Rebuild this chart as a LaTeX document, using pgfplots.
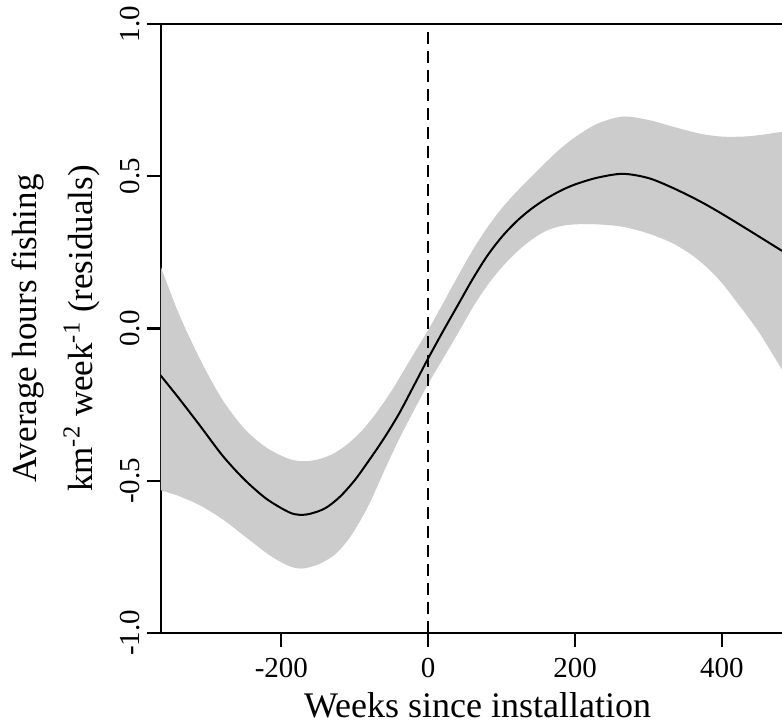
\documentclass[border=0pt]{standalone}
\usepackage{fontspec}
\setmainfont{Liberation Serif}
\usepackage{pgfplots}
\pgfplotsset{compat=1.18}
\usepgfplotslibrary{fillbetween}
\usetikzlibrary{calc}
\definecolor{band}{RGB}{204,204,204}

\pgfplotstableread{
x y
-366 -0.150
-340 -0.228
-310 -0.322
-280 -0.418
-250 -0.497
-220 -0.560
-190 -0.603
-175 -0.612
-160 -0.608
-140 -0.590
-120 -0.552
-100 -0.498
-80 -0.431
-60 -0.360
-40 -0.281
-20 -0.190
0 -0.098
20 -0.010
40 0.075
60 0.160
80 0.237
100 0.300
120 0.351
140 0.392
160 0.425
180 0.452
200 0.473
230 0.495
265 0.508
300 0.494
333 0.462
370 0.418
402 0.374
440 0.318
482 0.255
}\meantab

\pgfplotstableread{
x y
-366 0.214
-340 0.050
-310 -0.105
-280 -0.235
-250 -0.330
-220 -0.392
-190 -0.428
-170 -0.436
-150 -0.430
-130 -0.412
-110 -0.380
-90 -0.335
-70 -0.275
-50 -0.205
-30 -0.125
-15 -0.065
0 -0.005
20 0.082
40 0.170
60 0.255
80 0.330
100 0.394
120 0.448
140 0.497
160 0.545
180 0.590
200 0.628
230 0.672
265 0.696
300 0.685
333 0.663
370 0.640
402 0.630
440 0.632
482 0.646
}\uptab

\pgfplotstableread{
x y
-366 -0.530
-340 -0.550
-310 -0.582
-280 -0.627
-250 -0.682
-220 -0.738
-200 -0.768
-185 -0.784
-170 -0.788
-150 -0.775
-130 -0.748
-115 -0.712
-100 -0.662
-80 -0.575
-60 -0.468
-40 -0.365
-20 -0.272
0 -0.182
20 -0.100
40 -0.018
60 0.066
80 0.140
100 0.200
120 0.250
140 0.290
160 0.320
180 0.336
200 0.342
230 0.342
265 0.334
300 0.312
333 0.280
360 0.240
380 0.200
400 0.150
424 0.075
450 -0.010
482 -0.135
}\lotab

\begin{document}
\begin{tikzpicture}
\begin{axis}[
  scale only axis,
  width=310.5pt, height=304.5pt,
  xmin=-364, xmax=482,
  ymin=-1, ymax=1,
  axis x line*=bottom,
  axis y line*=left,
  axis line style={-, line width=1.2pt},
  tick style={line width=1.1pt, black},
  tick align=outside,
  major tick length=7pt,
  xtick={-200,0,200,400},
  xticklabels={-200,0,200,400},
  ytick={-1,-0.5,0,0.5,1},
  yticklabels={-1.0,-0.5,0.0,0.5,1.0},
  minor tick num=0,
  /pgf/number format/assume math mode=true,
  tick label style={font=\fontsize{14.5}{17}\selectfont},
  xticklabel style={yshift=-2pt},
  yticklabel style={rotate=90, anchor=south},
  xlabel={Weeks since installation},
  xlabel style={at={(rel axis cs:0.5097,0)}, anchor=base, yshift=-42.5pt, inner sep=0pt, font=\fontsize{18}{21}\selectfont},
  ylabel={Average hours fishing\\km\textsuperscript{-2} week\textsuperscript{-1} (residuals)},
  ylabel style={at={(rel axis cs:0,0.5)}, anchor=south, inner sep=0pt, yshift=30.5pt, align=center, font=\fontsize{17.5}{28}\selectfont},
]
\addplot[name path=up, draw=none, smooth] table[x=x,y=y] {\uptab};
\addplot[name path=lo, draw=none, smooth] table[x=x,y=y] {\lotab};
\addplot[band, draw=none] fill between[of=up and lo];
\addplot[black, line width=1pt, smooth] table[x=x,y=y] {\meantab};
\addplot[black, line width=1pt, dash pattern=on 6pt off 3.5pt] coordinates {(0,-1) (0,1)};
\draw[line width=1.2pt] (rel axis cs:0,1) -- (rel axis cs:1,1);
\coordinate (bl) at (rel axis cs:0,0);
\coordinate (tr) at (rel axis cs:1,1);
\end{axis}
\pgfresetboundingbox
\useasboundingbox ($(bl)+(-80.5pt,-47pt)$) rectangle ($(tr)+(0,12pt)$);
\end{tikzpicture}
\end{document}
